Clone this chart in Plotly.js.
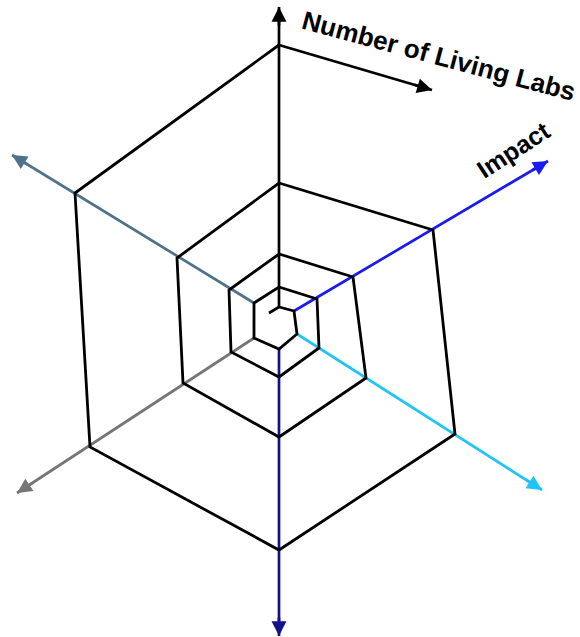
<!DOCTYPE html>
<html>
<head>
<meta charset="utf-8">
<script src="https://cdn.plot.ly/plotly-3.0.1.min.js"></script>
<style>html,body{margin:0;padding:0;background:#fff;}#chart{width:580px;height:637px;}</style>
</head>
<body>
<div id="chart"></div>
<script>
// Spiral web vertices (pixel-like coordinates)
var spiralX = [269, 279, 294, 297, 279, 254, 254, 279, 317, 319, 279, 231, 229, 279, 353, 366, 279, 183, 177, 279, 433, 455, 279, 90, 75, 279, 432];
var spiralY = [313, 307, 311, 334, 349, 338, 303, 287, 299, 348, 377, 352, 290, 254, 277, 378, 437, 383, 258, 183, 230, 434, 550, 447, 193, 45, 90];

// Radial axes: start point and arrow tip
var axisNames  = ["up", "upperRight", "lowerRight", "down", "lowerLeft", "upperLeft"];
var axisStartX = [279, 294, 297, 279, 254, 254];
var axisStartY = [307, 311, 334, 349, 338, 303];
var axisTipX   = [279, 548, 542, 279, 17, 12];
var axisTipY   = [7, 161, 490, 636, 493, 155];
var axisColors = ["#000000", "#1a1af5", "#22c4f5", "#12128c", "#767676", "#4e7389"];

// Labels
var labelText  = ["Number of Living Labs", "Impact"];
var labelX     = [439, 513];
var labelY     = [56, 150];
var labelAngle = [15, -33];
var labelSize  = [26, 25];

var traces = [];
for (var i = 0; i < axisNames.length; i++) {
  traces.push({
    type: "scatter", mode: "lines", name: axisNames[i],
    x: [axisStartX[i], axisTipX[i]], y: [axisStartY[i], axisTipY[i]],
    line: {color: axisColors[i], width: 2.7}, hoverinfo: "skip"
  });
}
var n = spiralX.length;
traces.push({
  type: "scatter", mode: "lines", name: "web",
  x: spiralX.slice(0, n - 1), y: spiralY.slice(0, n - 1),
  line: {color: "#000000", width: 2.8}, hoverinfo: "skip"
});
traces.push({
  type: "scatter", mode: "lines", name: "arrowSeg",
  x: [spiralX[n - 2], spiralX[n - 1]], y: [spiralY[n - 2], spiralY[n - 1]],
  line: {color: "#000000", width: 2.7}, hoverinfo: "skip"
});

function head(x0, y0, x1, y1, color) {
  var dx = x1 - x0, dy = y1 - y0, L = Math.sqrt(dx * dx + dy * dy);
  var k = 20 / L;
  return {
    x: x1, y: y1, ax: x1 - dx * k, ay: y1 - dy * k,
    xref: "x", yref: "y", axref: "x", ayref: "y",
    text: "", showarrow: true, arrowhead: 2, arrowsize: 1.1, arrowwidth: 2.7,
    arrowcolor: color, standoff: 0, startstandoff: 0
  };
}

var annotations = [];
for (var j = 0; j < axisNames.length; j++) {
  annotations.push(head(axisStartX[j], axisStartY[j], axisTipX[j], axisTipY[j], axisColors[j]));
}
annotations.push(head(spiralX[n - 2], spiralY[n - 2], spiralX[n - 1], spiralY[n - 1], "#000000"));
for (var m = 0; m < labelText.length; m++) {
  annotations.push({
    x: labelX[m], y: labelY[m], xref: "x", yref: "y",
    text: "<b>" + labelText[m] + "</b>", showarrow: false, textangle: labelAngle[m],
    font: {family: "Liberation Sans, Arial, sans-serif", size: labelSize[m], color: "#000000"}
  });
}

var layout = {
  width: 580, height: 637,
  margin: {l: 0, r: 0, t: 0, b: 0},
  paper_bgcolor: "#ffffff", plot_bgcolor: "#ffffff",
  showlegend: false,
  xaxis: {range: [0, 580], visible: false, fixedrange: true},
  yaxis: {range: [637, 0], visible: false, fixedrange: true},
  annotations: annotations
};

Plotly.newPlot("chart", traces, layout, {displayModeBar: false, staticPlot: true});
</script>
</body>
</html>
